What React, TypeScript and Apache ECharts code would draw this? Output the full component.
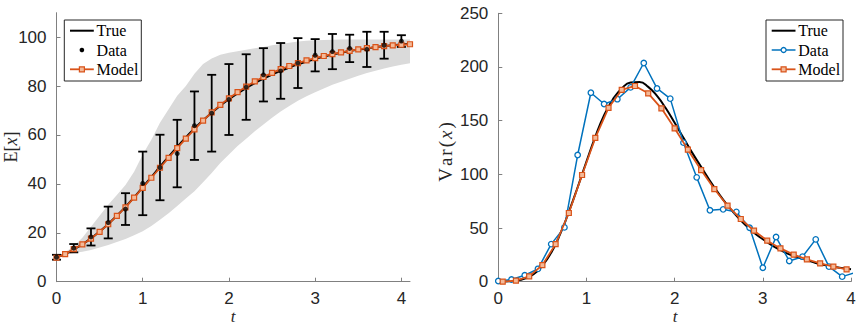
import React, { useEffect, useRef } from "react";
import * as echarts from "echarts";

// ---------- Mean panel E[x] ----------
const meanT = [0, 0.1, 0.2, 0.3, 0.4, 0.5, 0.6, 0.7, 0.8, 0.9, 1.0, 1.1, 1.2, 1.3, 1.4, 1.5, 1.6, 1.7, 1.8, 1.9, 2.0, 2.1, 2.2, 2.3, 2.4, 2.5, 2.6, 2.7, 2.8, 2.9, 3.0, 3.1, 3.2, 3.3, 3.4, 3.5, 3.6, 3.7, 3.8, 3.9, 4.0, 4.1];
const meanTrue = [10, 11.3, 13.2, 15.3, 17.7, 20.5, 23.6, 27, 30.6, 34.5, 38.6, 42.8, 47, 51.1, 55.1, 59, 62.6, 66, 69.1, 72, 74.6, 77, 79.2, 81.2, 83, 84.7, 86.2, 87.6, 88.9, 90, 91.1, 92, 92.9, 93.6, 94.3, 94.9, 95.4, 95.9, 96.3, 96.7, 97, 97.3];
const meanModel = [9.8, 11.3, 13.3, 15.3, 17.6, 20.4, 23.5, 26.9, 30.4, 34.4, 38.4, 42.5, 46.6, 50.6, 54.6, 58.5, 62.3, 65.9, 69.2, 72.3, 75, 77.5, 79.8, 81.9, 83.7, 85.4, 86.9, 88.2, 89.4, 90.5, 91.4, 92.3, 93.1, 93.8, 94.4, 95, 95.5, 95.9, 96.3, 96.6, 96.9, 97.1];
const bandUpper = [10, 12, 14.5, 18, 22.5, 27, 31.5, 35.5, 39.5, 45, 52, 58, 65, 70.5, 76, 80, 85, 89, 91.3, 92.8, 93.6, 94.2, 94.8, 95.5, 96, 96.7, 97.2, 97.7, 98.2, 98.5, 98.7, 98.8, 98.9, 99, 99, 99, 99, 99, 99, 99, 99, 99];
const bandLower = [10, 11, 11.7, 12.2, 13, 14, 15, 16.2, 17.5, 19, 20.6, 22.8, 25.3, 28, 31, 34, 37, 40.7, 44.5, 48.5, 52, 55.5, 58.5, 61.5, 64.3, 67, 69.6, 71.8, 74, 75.8, 77.5, 79, 80.5, 81.8, 83, 84.2, 85.3, 86.3, 87.2, 88, 88.7, 89.3];

const sampleT = [0, 0.2, 0.4, 0.6, 0.8, 1.0, 1.2, 1.4, 1.6, 1.8, 2.0, 2.2, 2.4, 2.6, 2.8, 3.0, 3.2, 3.4, 3.6, 3.8, 4.0];
const sampleMean = [10, 13.7, 18.3, 24.2, 29.7, 40.2, 46.7, 52.4, 63.8, 68.9, 74.5, 79.6, 84.6, 86.2, 89.4, 92.6, 94.1, 95.4, 95.0, 96.7, 98.4];
const sampleErr = [1, 1.7, 3.5, 6.5, 6.5, 13, 13.4, 13.8, 14, 15.7, 14.5, 13.4, 10.9, 11.4, 10.2, 6.6, 7.2, 5.6, 7.2, 5.5, 2.4];

// ---------- Variance panel Var(x) ----------
const varTrueT = [0, 0.1, 0.2, 0.3, 0.4, 0.5, 0.6, 0.7, 0.8, 0.9, 1.0, 1.1, 1.2, 1.3, 1.4, 1.5, 1.6, 1.7, 1.8, 1.9, 2.0, 2.1, 2.2, 2.3, 2.4, 2.5, 2.6, 2.7, 2.8, 2.9, 3.0, 3.1, 3.2, 3.3, 3.4, 3.5, 3.6, 3.7, 3.8, 3.9, 4.0];
const varTrue = [0, 0.3, 1, 3, 7, 15, 27, 44, 65, 88, 112, 135, 155, 170, 180, 185.5, 186, 181.5, 173, 161.5, 148, 134, 120, 107, 94, 82, 71, 61.5, 53, 45.5, 39.5, 34, 29.5, 25.5, 22.5, 20, 17.5, 15.5, 14, 12.7, 11.5];
const varDataT = [0, 0.15, 0.3, 0.45, 0.6, 0.75, 0.9, 1.05, 1.2, 1.35, 1.5, 1.65, 1.8, 1.95, 2.1, 2.25, 2.4, 2.55, 2.7, 2.85, 3.0, 3.15, 3.3, 3.45, 3.6, 3.75, 3.9, 4.05];
const varData = [0.6, 2, 6, 12, 35, 50.6, 118, 176, 165.5, 170, 181, 203.7, 180, 170.5, 129.5, 97.2, 66.5, 67.4, 65, 50.3, 13, 41.6, 19.3, 23.3, 39.4, 14, 4.7, 8.5];
const varModelT = [0.05, 0.2, 0.35, 0.5, 0.65, 0.8, 0.95, 1.1, 1.25, 1.4, 1.55, 1.7, 1.85, 2.0, 2.15, 2.3, 2.45, 2.6, 2.75, 2.9, 3.05, 3.2, 3.35, 3.5, 3.65, 3.8, 3.95];
const varModel = [0, 1, 5, 15.5, 35, 64, 99.4, 133.9, 162, 178.6, 182.3, 175.5, 161.5, 142.9, 123, 104, 86.3, 70.8, 58.4, 47.5, 38.2, 31, 25.2, 20.8, 17.1, 14, 11.5];

const xTicks = [0, 1, 2, 3, 4];
const meanTicks = [0, 20, 40, 60, 80, 100];

const BLUE = "#0072BD";
const ORANGE = "#D95319";
const SQUARE_FILL = "#f3b998";
const AXIS_GRAY = "#808080";
const LABEL = "#262626";
const SANS = "'Liberation Sans', Arial, Helvetica, sans-serif";
const SERIF = "'Liberation Serif', 'Times New Roman', serif";

const zip = (a: number[], b: number[]) => a.map((v, i) => [v, b[i]]);

const axisCommon = {
  axisLine: { show: true, lineStyle: { color: AXIS_GRAY, width: 1 } },
  axisTick: { show: true, inside: true, length: 4, lineStyle: { color: AXIS_GRAY } },
  splitLine: { show: false },
  axisLabel: { color: LABEL, fontFamily: SANS, fontSize: 17 },
};

function legendBox(x: number, y: number, withDataLine: boolean) {
  const lx0 = x + 5.7;
  const lx1 = x + 29.5;
  const mx = (lx0 + lx1) / 2;
  const tx = x + 32.3;
  const rows = [y + 10.7, y + 30, y + 49.3];
  const txt = (label: string, cy: number) => ({
    type: "text",
    x: tx,
    y: cy,
    style: { text: label, fill: "#000", font: `16px ${SERIF}`, verticalAlign: "middle", align: "left" },
  });
  const children: any[] = [
    { type: "rect", shape: { x, y, width: 77, height: 61 }, style: { fill: "#fff", stroke: "#262626", lineWidth: 1 } },
    { type: "line", shape: { x1: lx0, y1: rows[0], x2: lx1, y2: rows[0] }, style: { stroke: "#000", lineWidth: 2 } },
    txt("True", rows[0]),
  ];
  if (withDataLine) {
    children.push(
      { type: "line", shape: { x1: lx0, y1: rows[1], x2: lx1, y2: rows[1] }, style: { stroke: BLUE, lineWidth: 1.5 } },
      { type: "circle", shape: { cx: mx, cy: rows[1], r: 2.5 }, style: { fill: "#fff", stroke: BLUE, lineWidth: 1.3 } }
    );
  } else {
    children.push({ type: "circle", shape: { cx: mx, cy: rows[1], r: 2.3 }, style: { fill: "#000" } });
  }
  children.push(
    txt("Data", rows[1]),
    { type: "line", shape: { x1: lx0, y1: rows[2], x2: lx1, y2: rows[2] }, style: { stroke: ORANGE, lineWidth: 1.8 } },
    { type: "rect", shape: { x: mx - 2.5, y: rows[2] - 2.5, width: 5, height: 5 }, style: { fill: SQUARE_FILL, stroke: ORANGE, lineWidth: 1.2 } },
    txt("Model", rows[2])
  );
  return { type: "group", z: 100, children };
}

// Rotated y-axis title built from per-glyph rich segments so spacing can be widened
function yTitle(x: number, y: number, parts: [string, boolean][]) {
  const text = parts.map(([ch, it]) => `{${it ? "i" : "r"}|${ch}}`).join("");
  const pad = [0, 1, 0, 1];
  return {
    type: "text",
    x,
    y,
    rotation: Math.PI / 2,
    style: {
      text,
      align: "center",
      verticalAlign: "middle",
      rich: {
        r: { fontFamily: SERIF, fontSize: 19, fill: LABEL, padding: pad },
        i: { fontFamily: SERIF, fontStyle: "italic", fontSize: 19, fill: LABEL, padding: pad },
      },
    },
  };
}

export default function App() {
  const ref = useRef<HTMLDivElement>(null);

  useEffect(() => {
    if (!ref.current) return;
    const chart = echarts.init(ref.current, undefined, { renderer: "svg" });

    const option: any = {
      animation: false,
      backgroundColor: "#fff",
      grid: [
        { left: 56.5, top: 12.7, width: 353.5, height: 269 },
        { left: 498.3, top: 13.3, width: 352.7, height: 268.4 },
      ],
      xAxis: [
        {
          ...axisCommon,
          gridIndex: 0,
          type: "value",
          min: 0,
          max: 4.1,
          interval: 1,
          axisTick: { ...axisCommon.axisTick, customValues: xTicks },
          axisLabel: { ...axisCommon.axisLabel, margin: 8, customValues: xTicks },
        },
        {
          ...axisCommon,
          gridIndex: 1,
          type: "value",
          min: 0,
          max: 4,
          interval: 1,
          axisLabel: { ...axisCommon.axisLabel, margin: 8 },
        },
      ],
      yAxis: [
        {
          ...axisCommon,
          gridIndex: 0,
          type: "value",
          min: 0,
          max: 110,
          interval: 20,
          axisTick: { ...axisCommon.axisTick, customValues: meanTicks },
          axisLabel: { ...axisCommon.axisLabel, margin: 10, customValues: meanTicks },
        },
        {
          ...axisCommon,
          gridIndex: 1,
          type: "value",
          min: 0,
          max: 250,
          interval: 50,
          axisLabel: { ...axisCommon.axisLabel, margin: 10 },
        },
      ],
      series: [
        {
          // shaded spread of the sample paths
          type: "custom",
          xAxisIndex: 0,
          yAxisIndex: 0,
          data: [[0, 0]],
          encode: { x: 0, y: 1 },
          silent: true,
          z: 1,
          renderItem: (_p: any, api: any) => {
            const pts: number[][] = [];
            meanT.forEach((t, i) => pts.push(api.coord([t, bandUpper[i]])));
            for (let i = meanT.length - 1; i >= 0; i--) pts.push(api.coord([meanT[i], bandLower[i]]));
            return { type: "polygon", shape: { points: pts }, style: { fill: "#dadada" } };
          },
        },
        {
          type: "custom",
          xAxisIndex: 0,
          yAxisIndex: 0,
          data: sampleT.map((t, i) => [t, sampleMean[i], sampleErr[i]]),
          encode: { x: 0, y: 1 },
          z: 2,
          renderItem: (_p: any, api: any) => {
            const t = api.value(0);
            const m = api.value(1);
            const e = api.value(2);
            const top = api.coord([t, m + e]);
            const bot = api.coord([t, m - e]);
            const hw = 4.5;
            const st = { stroke: "#000", lineWidth: 1.8 };
            return {
              type: "group",
              children: [
                { type: "line", shape: { x1: top[0], y1: top[1], x2: bot[0], y2: bot[1] }, style: st },
                { type: "line", shape: { x1: top[0] - hw, y1: top[1], x2: top[0] + hw, y2: top[1] }, style: st },
                { type: "line", shape: { x1: bot[0] - hw, y1: bot[1], x2: bot[0] + hw, y2: bot[1] }, style: st },
              ],
            };
          },
        },
        {
          name: "True",
          type: "line",
          xAxisIndex: 0,
          yAxisIndex: 0,
          data: zip(meanT, meanTrue),
          smooth: true,
          showSymbol: false,
          lineStyle: { color: "#000", width: 2 },
          z: 3,
        },
        {
          name: "Model",
          type: "line",
          xAxisIndex: 0,
          yAxisIndex: 0,
          data: zip(meanT, meanModel),
          symbol: "rect",
          symbolSize: 5,
          itemStyle: { color: SQUARE_FILL, borderColor: ORANGE, borderWidth: 1.2 },
          lineStyle: { color: ORANGE, width: 1.8 },
          z: 4,
        },
        {
          name: "Data",
          type: "scatter",
          xAxisIndex: 0,
          yAxisIndex: 0,
          data: zip(sampleT, sampleMean),
          symbol: "circle",
          symbolSize: 5,
          itemStyle: { color: "#000" },
          z: 5,
        },
        {
          name: "True",
          type: "line",
          xAxisIndex: 1,
          yAxisIndex: 1,
          data: zip(varTrueT, varTrue),
          smooth: true,
          showSymbol: false,
          lineStyle: { color: "#000", width: 2 },
          z: 3,
        },
        {
          name: "Data",
          type: "line",
          xAxisIndex: 1,
          yAxisIndex: 1,
          data: zip(varDataT, varData),
          symbol: "circle",
          symbolSize: 5.5,
          clip: true,
          itemStyle: { color: "#fff", borderColor: BLUE, borderWidth: 1.3 },
          lineStyle: { color: BLUE, width: 1.5 },
          z: 4,
        },
        {
          name: "Model",
          type: "line",
          xAxisIndex: 1,
          yAxisIndex: 1,
          data: zip(varModelT, varModel),
          symbol: "rect",
          symbolSize: 5,
          itemStyle: { color: SQUARE_FILL, borderColor: ORANGE, borderWidth: 1.2 },
          lineStyle: { color: ORANGE, width: 1.8 },
          z: 5,
        },
      ],
      graphic: [
        legendBox(64.3, 20, false),
        legendBox(766, 20, true),
        {
          type: "text",
          x: 233,
          y: 316,
          style: { text: "t", font: `italic 17px ${SERIF}`, fill: LABEL, align: "center", verticalAlign: "middle" },
        },
        {
          type: "text",
          x: 675,
          y: 316,
          style: { text: "t", font: `italic 17px ${SERIF}`, fill: LABEL, align: "center", verticalAlign: "middle" },
        },
        {
          type: "text",
          x: 11,
          y: 147,
          rotation: Math.PI / 2,
          style: {
            text: "{r|E[}{i|x}{r|]}",
            align: "center",
            verticalAlign: "middle",
            rich: {
              r: { fontFamily: SERIF, fontSize: 18, fill: LABEL },
              i: { fontFamily: SERIF, fontStyle: "italic", fontSize: 18, fill: LABEL },
            },
          },
        },
        yTitle(445, 152, [["V", false], ["a", false], ["r", false], ["(", false], ["x", true], [")", false]]),
      ],
    };

    chart.setOption(option);
    return () => chart.dispose();
  }, []);

  return <div ref={ref} style={{ position: "fixed", left: 0, top: 0, width: 862, height: 326 }} />;
}
